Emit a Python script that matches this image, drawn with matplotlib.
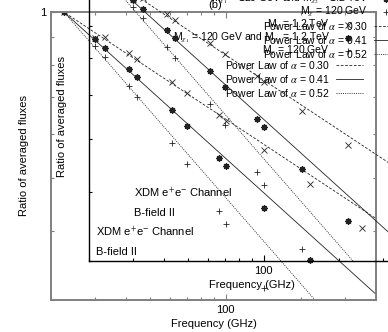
import matplotlib
matplotlib.use("Agg")
import matplotlib.pyplot as plt
import matplotlib.ticker as mticker
import numpy as np

plt.rcParams["font.family"] = ["Liberation Sans", "DejaVu Sans"]
plt.rcParams["mathtext.fontset"] = "stix"

# ── data ───────────────────────────────────────────────────
freq = np.array([22.5, 30, 33, 41, 44, 61, 70, 94, 100, 143, 217, 353])
ratio_heavy = np.array([1, 0.897, 0.901, 0.842, 0.821, 0.746, 0.712, 0.650,
                        0.634, 0.561, 0.487, 0.405])
ratio_mixed = np.array([1, 0.893, 0.860, 0.788, 0.762, 0.663, 0.621, 0.543,
                        0.525, 0.440, 0.354, np.nan])
ratio_light = np.array([1, 0.867, 0.828, 0.734, 0.700, 0.578, 0.529, 0.435,
                        0.413, 0.316, np.nan, np.nan])
alphas = [0.30, 0.41, 0.52]
f_ref = 22.5
f_span = np.array([20.0, 400.0])

point_labels = [r"M$_{\chi}$ = 1.2 TeV",
                r"M$_{\chi_1}$ = 120 GeV and M$_{\chi_2}$ = 1.2 TeV",
                r"M$_{\chi}$ = 120 GeV"]
line_labels = [r"Power Law of $\alpha$ = %.2f" % a for a in alphas]

AST = (8, 2, 0)
markers = ["x", AST, "+"]
mews = [0.6, 1.0, 0.6]
dashes = [(0, (3.2, 2.0)), "-", (0, (1.2, 1.4))]

W, H = 388, 332


def panel(left_px, bottom_px, frame, flw):
    ax = fig.add_axes([left_px / W, 1 - bottom_px / H, 325 / W, 288 / H])
    ax.set_facecolor("none")
    ax.set_xscale("log")
    ax.set_yscale("log")
    ax.set_xlim(20, 400)
    ax.set_ylim(0.3, 1)

    for a, ls in zip(alphas, dashes):
        ax.plot(f_span, (f_span / f_ref) ** (-a), ls=ls, color="#222222", lw=0.6)
    for r, m, mw in zip([ratio_heavy, ratio_mixed, ratio_light], markers, mews):
        ax.plot(freq, r, ls="none", marker=m, ms=4.5, mew=mw, color="#222222")

    for axis in (ax.xaxis, ax.yaxis):
        axis.set_major_locator(mticker.LogLocator(base=10))
        axis.set_minor_locator(mticker.LogLocator(base=10, subs=np.arange(2, 10)))
        axis.set_major_formatter(mticker.FuncFormatter(lambda v, _: f"{v:g}"))
        axis.set_minor_formatter(mticker.NullFormatter())
    ax.tick_params(which="both", direction="in", top=True, right=True,
                   color=frame, width=0.8, labelsize=8, pad=3.5)
    ax.tick_params(which="major", length=4.5)
    ax.tick_params(which="minor", length=2.5)
    for sp in ax.spines.values():
        sp.set_color(frame)
        sp.set_linewidth(flw)

    ax.text(0.5, -0.083, "Frequency (GHz)", transform=ax.transAxes,
            ha="center", va="center", fontsize=8)
    ax.text(-0.083, 0.5, "Ratio of averaged fluxes", transform=ax.transAxes,
            ha="center", va="center", rotation=90, fontsize=8)
    ax.text(0.138, 0.236, r"XDM e$^{+}$e$^{-}$ Channel", transform=ax.transAxes,
            ha="left", va="center", fontsize=8)
    ax.text(0.138, 0.167, "B-field II", transform=ax.transAxes,
            ha="left", va="center", fontsize=8)

    # key, gnuplot style: text right-justified, sample on the right
    ys = [0.955, 0.911, 0.864, 0.816, 0.767, 0.719]
    for y, lab, m, mw in zip(ys[:3], point_labels, markers, mews):
        ax.text(0.858, y, lab, transform=ax.transAxes, ha="right",
                va="center", fontsize=7.5)
        ax.plot([0.915], [y], transform=ax.transAxes, marker=m, ms=4.5,
                mew=mw, color="#222222", clip_on=False)
    for y, lab, ls in zip(ys[3:], line_labels, dashes):
        ax.text(0.858, y, lab, transform=ax.transAxes, ha="right",
                va="center", fontsize=7.5)
        ax.plot([0.877, 0.960], [y, y], transform=ax.transAxes, ls=ls,
                color="#222222", lw=0.6, clip_on=False)
    return ax


fig = plt.figure(figsize=(W / 100, H / 100), dpi=100)
panel(51, 300, "#808080", 1.4)
panel(89, 261, "black", 1.0)
fig.text(208 / W, 1 - 5 / H, "(b)", ha="left", va="center", fontsize=8)

fig.savefig("out.png", dpi=100, facecolor="white")
